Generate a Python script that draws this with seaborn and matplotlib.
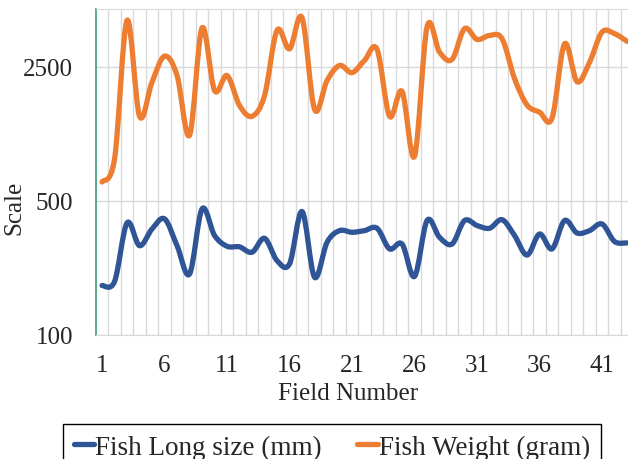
import numpy as np
import pandas as pd
import matplotlib
matplotlib.use('Agg')
import matplotlib.pyplot as plt
from matplotlib.path import Path
from matplotlib.patches import PathPatch
from matplotlib.lines import Line2D
from matplotlib.ticker import FixedLocator, NullFormatter
import seaborn as sns

# values (log scale, base 5)
field = list(range(1, 44))
long_size = [181, 190, 384, 292, 357, 403, 292, 208, 454, 330, 290, 288, 270, 319, 244,
             235, 440, 200, 304, 350, 343, 350, 360, 281, 298, 202, 395, 323, 298, 395,
             372, 360, 399, 330, 261, 336, 281, 395, 340, 350, 379, 307, 302]
weight = [627, 828, 4360, 1380, 2080, 2840, 2250, 1100, 3980, 1880, 2250, 1570, 1380, 1770, 3870,
          3100, 4500, 1500, 2120, 2540, 2330, 2700, 3080, 1380, 1860, 855, 4030, 2980, 2730, 3950,
          3470, 3640, 3500, 2170, 1580, 1450, 1350, 3290, 2090, 2640, 3790, 3720, 3390]
series_names = ['Fish Long size (mm)', 'Fish Weight (gram)']
x_ticks = [1, 6, 11, 16, 21, 26, 31, 36, 41]
y_major = [100, 500, 2500]
y_minor = [200, 300, 400, 1000, 1500, 2000]

blue = '#2F5597'
orange = '#ED7D31'
green = '#3A9A78'
grid_c = '#D9D9D9'
fs = 18

df = pd.DataFrame({
    'field': field * 2,
    'value': long_size + weight,
    'series': [series_names[0]] * len(field) + [series_names[1]] * len(field),
})

sns.set_style('white')
plt.rcParams['font.family'] = ['Liberation Serif', 'DejaVu Serif']

fig = plt.figure(figsize=(6.28, 4.6), dpi=100)
ax = fig.add_axes([95.8 / 628, 124 / 460, 532.2 / 628, 326 / 460])

sns.lineplot(data=df, x='field', y='value', hue='series', palette=[blue, orange],
             linewidth=3.8, ax=ax, legend=False)
ax.set_yscale('log')
ax.set_ylim(100, 5000)
ax.set_xlim(0.5, 0.5 + 532.2 / 12.5)


def smooth(line):
    # Excel-like "smoothed line": cubic bezier through the points, done in (x, log y)
    xy = line.get_xydata()
    xs, ly = xy[:, 0], np.log10(xy[:, 1])
    n = len(xs)
    verts = [(xs[0], 10 ** ly[0])]
    codes = [Path.MOVETO]
    for i in range(n - 1):
        a, b = max(i - 1, 0), min(i + 2, n - 1)
        c1 = (xs[i] + (xs[i + 1] - xs[a]) / 6, ly[i] + (ly[i + 1] - ly[a]) / 6)
        c2 = (xs[i + 1] - (xs[b] - xs[i]) / 6, ly[i + 1] - (ly[b] - ly[i]) / 6)
        verts += [(c1[0], 10 ** c1[1]), (c2[0], 10 ** c2[1]), (xs[i + 1], 10 ** ly[i + 1])]
        codes += [Path.CURVE4] * 3
    patch = PathPatch(Path(verts, codes), fill=False, edgecolor=line.get_color(),
                      linewidth=line.get_linewidth(), capstyle='round', joinstyle='round',
                      zorder=3)
    ax.add_patch(patch)
    line.remove()


for ln in list(ax.get_lines()):
    smooth(ln)

# axes
ax.yaxis.set_major_locator(FixedLocator(y_major))
ax.yaxis.set_minor_locator(FixedLocator(y_minor))
ax.set_yticklabels([str(v) for v in y_major])
ax.yaxis.set_minor_formatter(NullFormatter())
ax.xaxis.set_major_locator(FixedLocator(x_ticks))
ax.set_xticklabels([str(v) for v in x_ticks])
ax.xaxis.set_minor_locator(FixedLocator(np.arange(1.5, 44, 1)))

ax.grid(False)
ax.yaxis.grid(True, which='major', color=grid_c, lw=1)
ax.xaxis.grid(True, which='minor', color=grid_c, lw=1)

ax.tick_params(axis='y', which='major', direction='inout', length=9.4, width=1,
               color=green, labelsize=fs, pad=11.7)
ax.tick_params(axis='y', which='minor', direction='in', length=3.6, width=1, color=green)
ax.tick_params(axis='x', which='major', length=0, labelsize=fs, pad=14)
ax.tick_params(axis='x', which='minor', direction='out', length=3, width=0.8, color=grid_c)

ax.spines['left'].set_color(green)
ax.spines['left'].set_linewidth(1.2)
ax.spines['bottom'].set_color(grid_c)
ax.spines['top'].set_color(grid_c)
ax.spines['right'].set_visible(False)
ax.set_axisbelow(True)

ax.set_xlabel('Field Number', fontsize=fs)
ax.set_ylabel('Scale', fontsize=fs)
ax.xaxis.set_label_coords(0.474, -0.144)
ax.yaxis.set_label_coords(-0.133, 0.393)

handles = [Line2D([], [], color=blue, lw=3.8), Line2D([], [], color=orange, lw=3.8)]
leg = ax.legend(handles, series_names, loc='upper center', bbox_to_anchor=(332 / 628, 1 - 425 / 460),
                bbox_transform=fig.transFigure, ncol=2, fontsize=19.5, frameon=True,
                fancybox=False, edgecolor='black', handlelength=0.75, handletextpad=0.05,
                columnspacing=1.3, borderpad=0.4, borderaxespad=0, framealpha=1)
leg.get_frame().set_linewidth(1)

fig.savefig('out.png', dpi=100)
